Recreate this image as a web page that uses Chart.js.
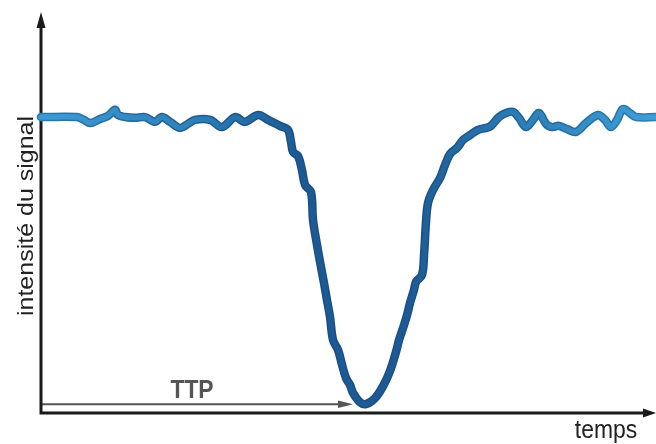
<!DOCTYPE html>
<html lang="fr">
<head>
<meta charset="utf-8">
<title>Temps jusqu'au pic (TTP)</title>
<script src="https://cdn.jsdelivr.net/npm/chart.js@4/dist/chart.umd.min.js"></script>
<style>
  html, body { margin: 0; padding: 0; background: #ffffff; }
  #wrap { width: 656px; height: 444px; }
  canvas { display: block; }
</style>
</head>
<body>
<div id="wrap"><canvas id="c" width="656" height="444"></canvas></div>
<script>
// Temps (s) and relative signal intensity (%) of the bolus passage curve
const temps = [
  0.0, 3.5, 4.2, 4.78, 5.76, 6.54, 7.22, 7.51, 8.2, 9.17, 10.15, 11.12, 11.8, 12.59,
  13.56, 14.34, 15.02, 16.49, 17.66, 18.93, 19.9, 21.17, 22.15, 23.32, 24.1, 24.39,
  24.59, 25.07, 25.46, 25.76, 26.34, 26.54, 26.93, 27.22, 27.61, 27.9, 28.2, 28.49,
  28.98, 29.37, 29.76, 30.15, 30.44, 31.12, 31.71, 32.59, 33.37, 34.05, 34.63, 34.93,
  35.41, 35.71, 36.0, 36.39, 36.59, 37.17, 37.37, 37.56, 37.76, 38.24, 38.93, 39.41,
  39.9, 40.59, 41.17, 41.85, 42.63, 43.41, 43.9, 44.68, 45.37, 46.05, 46.63, 47.32,
  48.0, 48.59, 49.27, 49.85, 50.54, 51.32, 52.2, 53.17, 54.34, 55.02, 55.61, 56.2,
  56.78, 57.46, 58.05, 60.0
];
const intensite = [
  73.8, 73.8, 73.1, 72.3, 73.3, 74.1, 75.6, 74.3, 73.8, 73.6, 73.8, 72.6, 73.8, 72.6,
  71.1, 72.1, 73.1, 73.1, 71.3, 73.8, 72.6, 74.3, 73.1, 71.6, 70.6, 67.6,
  65.1, 64.1, 60.6, 56.9, 55.1, 48.1, 41.9, 37.7, 32.4, 28.2, 23.9, 18.2,
  15.7, 12.0, 8.7, 7.0, 5.0, 2.7, 2.2, 3.7, 6.7, 10.5, 15.2, 18.2,
  21.9, 24.4, 27.4, 30.7, 32.7, 34.4, 39.4, 47.6, 52.4, 55.6, 58.6, 61.8,
  64.6, 66.1, 68.1, 69.3, 70.6, 71.1, 71.6, 73.8, 74.8, 75.1, 73.6, 71.3,
  73.1, 74.8, 72.1, 71.3, 71.6, 70.8, 70.1, 72.3, 74.3, 73.1, 71.3, 73.1,
  75.8, 74.8, 73.8, 73.8
];
const axisTitles = { x: 'temps', y: 'intensité du signal' };
const ttpLabel = 'TTP';

const points = temps.map((t, i) => ({ x: t, y: intensite[i] }));

// Horizontal gradient: lighter blue at the baseline ends, deep blue around the dip
function strokeGradient(chart, stops) {
  const a = chart.chartArea;
  if (!a) return stops[0][1];
  const g = chart.ctx.createLinearGradient(a.left, 0, a.right, 0);
  stops.forEach(s => g.addColorStop(s[0], s[1]));
  return g;
}
const outlineStops = [[0, '#2a78ad'], [0.38, '#1a4f85'], [0.62, '#1a4f85'], [1, '#2a7eb4']];
const fillStops = [[0, '#3d9bd3'], [0.25, '#2d7fb7'], [0.42, '#1d5a93'], [0.6, '#1d5a93'], [0.78, '#2c7eb6'], [1, '#3ea0d6']];

function arrowHead(ctx, x, y, dir, len, half) {
  ctx.beginPath();
  if (dir === 'up') {
    ctx.moveTo(x, y); ctx.lineTo(x - half, y + len); ctx.lineTo(x + half, y + len);
  } else {
    ctx.moveTo(x, y); ctx.lineTo(x - len, y - half); ctx.lineTo(x - len, y + half);
  }
  ctx.closePath();
  ctx.fill();
}

// Axis arrows, TTP marker and axis titles
const decor = {
  id: 'decor',
  beforeDatasetsDraw(chart) {
    const { ctx, chartArea: a, scales } = chart;
    const xs = scales.x, ys = scales.y;

    // time-to-peak arrow, from the origin to the signal minimum
    let iMin = 0;
    intensite.forEach((v, i) => { if (v < intensite[iMin]) iMin = i; });
    const yMin = ys.getPixelForValue(intensite[iMin]);
    const xTip = xs.getPixelForValue(temps[iMin]) - 13;
    ctx.save();
    ctx.strokeStyle = '#555555';
    ctx.fillStyle = '#555555';
    ctx.lineWidth = 2;
    ctx.beginPath();
    ctx.moveTo(a.left, yMin);
    ctx.lineTo(xTip - 10, yMin);
    ctx.stroke();
    arrowHead(ctx, xTip, yMin, 'right', 15, 3.8);

    ctx.font = 'bold 26px "Liberation Sans", Arial, sans-serif';
    ctx.textAlign = 'center';
    ctx.textBaseline = 'alphabetic';
    const cx = (a.left + xTip) / 2 - 5;
    ctx.translate(cx, yMin - 6);
    ctx.scale(0.88, 1);
    ctx.fillText(ttpLabel, 0, 0);
    ctx.restore();

    // axes
    ctx.save();
    ctx.strokeStyle = '#1a1a1a';
    ctx.fillStyle = '#1a1a1a';
    ctx.lineWidth = 3;
    ctx.beginPath();
    ctx.moveTo(a.left, a.top + 14);
    ctx.lineTo(a.left, a.bottom);
    ctx.lineTo(a.right - 12, a.bottom);
    ctx.stroke();
    arrowHead(ctx, a.left, a.top, 'up', 16, 4.5);
    arrowHead(ctx, a.right, a.bottom, 'right', 13, 4.5);
    ctx.restore();
  },
  afterDraw(chart) {
    const { ctx } = chart;
    ctx.save();
    ctx.fillStyle = '#222222';
    ctx.font = '26px "Liberation Sans", Arial, sans-serif';
    ctx.textBaseline = 'alphabetic';

    ctx.save();
    ctx.textAlign = 'center';
    ctx.translate(606, 438);
    ctx.scale(0.88, 1);
    ctx.fillText(axisTitles.x, 0, 0);
    ctx.restore();

    ctx.save();
    ctx.textAlign = 'center';
    ctx.translate(33, 216);
    ctx.scale(0.88, 1);
    ctx.rotate(-Math.PI / 2);
    ctx.font = '25px "Liberation Sans", Arial, sans-serif';
    ctx.fillText(axisTitles.y, 0, 0);
    ctx.restore();
    ctx.restore();
  }
};

new Chart(document.getElementById('c'), {
  type: 'line',
  data: {
    datasets: [
      {
        data: points,
        borderColor: c => strokeGradient(c.chart, outlineStops),
        borderWidth: 8.5,
        tension: 0.35,
        pointRadius: 0,
        borderCapStyle: 'round',
        borderJoinStyle: 'round',
        clip: false,
        order: 2
      },
      {
        data: points,
        borderColor: c => strokeGradient(c.chart, fillStops),
        borderWidth: 5.5,
        tension: 0.35,
        pointRadius: 0,
        borderCapStyle: 'round',
        borderJoinStyle: 'round',
        clip: false,
        order: 1
      }
    ]
  },
  options: {
    responsive: false,
    animation: false,
    devicePixelRatio: 1,
    layout: { padding: { left: 41, right: 0, top: 12, bottom: 31 } },
    scales: {
      x: { type: 'linear', min: 0, max: 60, display: false },
      y: { min: 0, max: 100, display: false }
    },
    plugins: { legend: { display: false }, tooltip: { enabled: false } }
  },
  plugins: [decor]
});
</script>
</body>
</html>
